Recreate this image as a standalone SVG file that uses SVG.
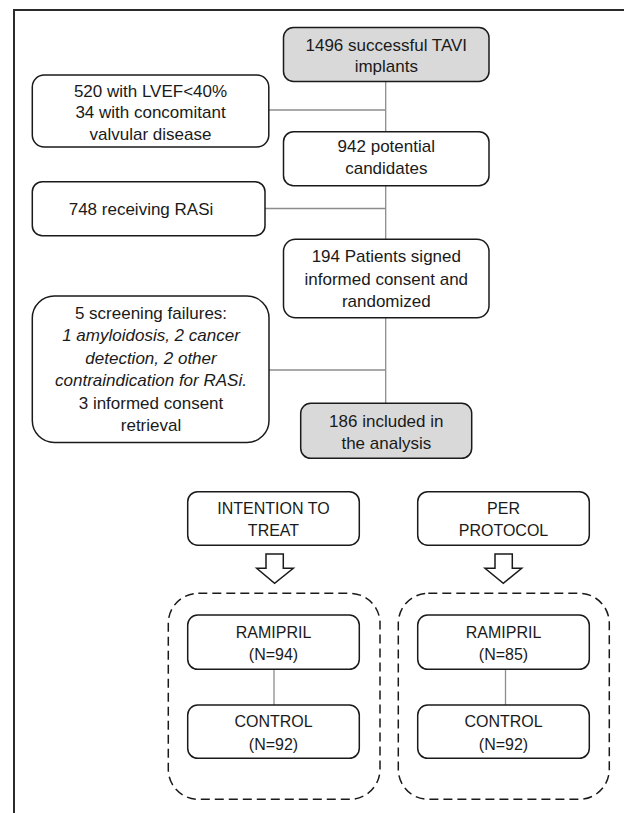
<svg xmlns="http://www.w3.org/2000/svg" width="624" height="813" viewBox="0 0 624 813">
<style>
  .box { fill: #ffffff; stroke: #1a1a1a; stroke-width: 1.5; }
  .grey { fill: #d9d9d9; }
  .dash { fill: none; stroke: #1a1a1a; stroke-width: 1.5; stroke-dasharray: 9 5; }
  .conn { fill: none; stroke: #8c8c8c; stroke-width: 1.3; }
  .arrow { fill: #ffffff; stroke: #1a1a1a; stroke-width: 1.5; stroke-linejoin: miter; }
  text { font-family: "Liberation Sans", Arial, sans-serif; font-size: 17px; fill: #1a1a1a; text-anchor: middle; }
  .caps { font-size: 16px; }
  .it { font-style: italic; }
</style>
<rect width="624" height="813" fill="#ffffff"/>
<path d="M14,813 V10 H624" fill="none" stroke="#2b2b2b" stroke-width="2"/>

<g id="connectors">
  <line class="conn" x1="385.7" y1="81.7" x2="385.7" y2="403.3"/>
  <line class="conn" x1="269" y1="110" x2="385.7" y2="110"/>
  <line class="conn" x1="265" y1="208.5" x2="385.7" y2="208.5"/>
  <line class="conn" x1="269" y1="370" x2="385.7" y2="370"/>
  <line class="conn" x1="274" y1="669.3" x2="274" y2="705"/>
  <line class="conn" x1="505.5" y1="669.3" x2="505.5" y2="705"/>
</g>

<g id="n-tavi">
  <rect class="box grey" x="283.5" y="27.5" width="205.5" height="54" rx="10"/>
  <text x="386.3" y="50.5">1496 successful TAVI</text>
  <text x="386.3" y="72">implants</text>
</g>
<g id="n-excl1">
  <rect class="box" x="32.3" y="75" width="236.5" height="72" rx="12"/>
  <text x="150.5" y="96.5">520 with LVEF&lt;40%</text>
  <text x="150.5" y="118">34 with concomitant</text>
  <text x="150.5" y="139.5">valvular disease</text>
</g>
<g id="n-candidates">
  <rect class="box" x="283.5" y="131.7" width="205.5" height="54" rx="10"/>
  <text x="386.3" y="152">942 potential</text>
  <text x="386.3" y="174">candidates</text>
</g>
<g id="n-rasi">
  <rect class="box" x="32.3" y="181.7" width="232.7" height="54" rx="10"/>
  <text x="141" y="214.5">748 receiving RASi</text>
</g>
<g id="n-randomized">
  <rect class="box" x="283.5" y="239.3" width="205.5" height="78.4" rx="12"/>
  <text x="386.3" y="262">194 Patients signed</text>
  <text x="386.3" y="284.5">informed consent and</text>
  <text x="386.3" y="306.5">randomized</text>
</g>
<g id="n-screen">
  <rect class="box" x="32.3" y="296" width="236.7" height="146.5" rx="22"/>
  <text x="151" y="318.5">5 screening failures:</text>
  <text x="151" y="341" class="it">1 amyloidosis, 2 cancer</text>
  <text x="151" y="363.5" class="it">detection, 2 other</text>
  <text x="151" y="386" class="it">contraindication for RASi.</text>
  <text x="151" y="408.5">3 informed consent</text>
  <text x="151" y="431">retrieval</text>
</g>
<g id="n-included">
  <rect class="box grey" x="300.7" y="403.3" width="171" height="55" rx="10"/>
  <text x="386.3" y="426.5">186 included in</text>
  <text x="386.3" y="448.5">the analysis</text>
</g>

<g id="n-itt">
  <rect class="box" x="187.7" y="491.7" width="171.6" height="53.5" rx="10"/>
  <text class="caps" x="273.5" y="513.5">INTENTION TO</text>
  <text class="caps" x="273.5" y="536">TREAT</text>
</g>
<g id="n-pp">
  <rect class="box" x="417.7" y="491.7" width="171.6" height="53.5" rx="10"/>
  <text class="caps" x="503.5" y="513.5">PER</text>
  <text class="caps" x="503.5" y="536">PROTOCOL</text>
</g>
<g id="arrow-itt">
  <path class="arrow" d="M266,554 H283.3 V568.3 H293.3 L274.6,583.3 L256.7,568.3 H266 Z"/>
</g>
<g id="arrow-pp">
  <path class="arrow" d="M495,554 H512.3 V568.3 H521.7 L503.3,583.3 L485,568.3 H495 Z"/>
</g>
<g id="group-itt">
  <rect class="dash" x="168.3" y="593.3" width="211.7" height="206" rx="30"/>
</g>
<g id="group-pp">
  <rect class="dash" x="398.3" y="593.3" width="211" height="206" rx="30"/>
</g>
<g id="n-itt-ramipril">
  <rect class="box" x="187.7" y="615" width="171.6" height="54.3" rx="10"/>
  <text class="caps" x="273.5" y="638">RAMIPRIL</text>
  <text class="caps" x="273.5" y="660">(N=94)</text>
</g>
<g id="n-itt-control">
  <rect class="box" x="187.7" y="705" width="171.6" height="53.3" rx="10"/>
  <text class="caps" x="273.5" y="727">CONTROL</text>
  <text class="caps" x="273.5" y="749.5">(N=92)</text>
</g>
<g id="n-pp-ramipril">
  <rect class="box" x="417.7" y="615" width="171.6" height="54.3" rx="10"/>
  <text class="caps" x="503.5" y="638">RAMIPRIL</text>
  <text class="caps" x="503.5" y="660">(N=85)</text>
</g>
<g id="n-pp-control">
  <rect class="box" x="417.7" y="705" width="171.6" height="53.3" rx="10"/>
  <text class="caps" x="503.5" y="727">CONTROL</text>
  <text class="caps" x="503.5" y="749.5">(N=92)</text>
</g>
</svg>
